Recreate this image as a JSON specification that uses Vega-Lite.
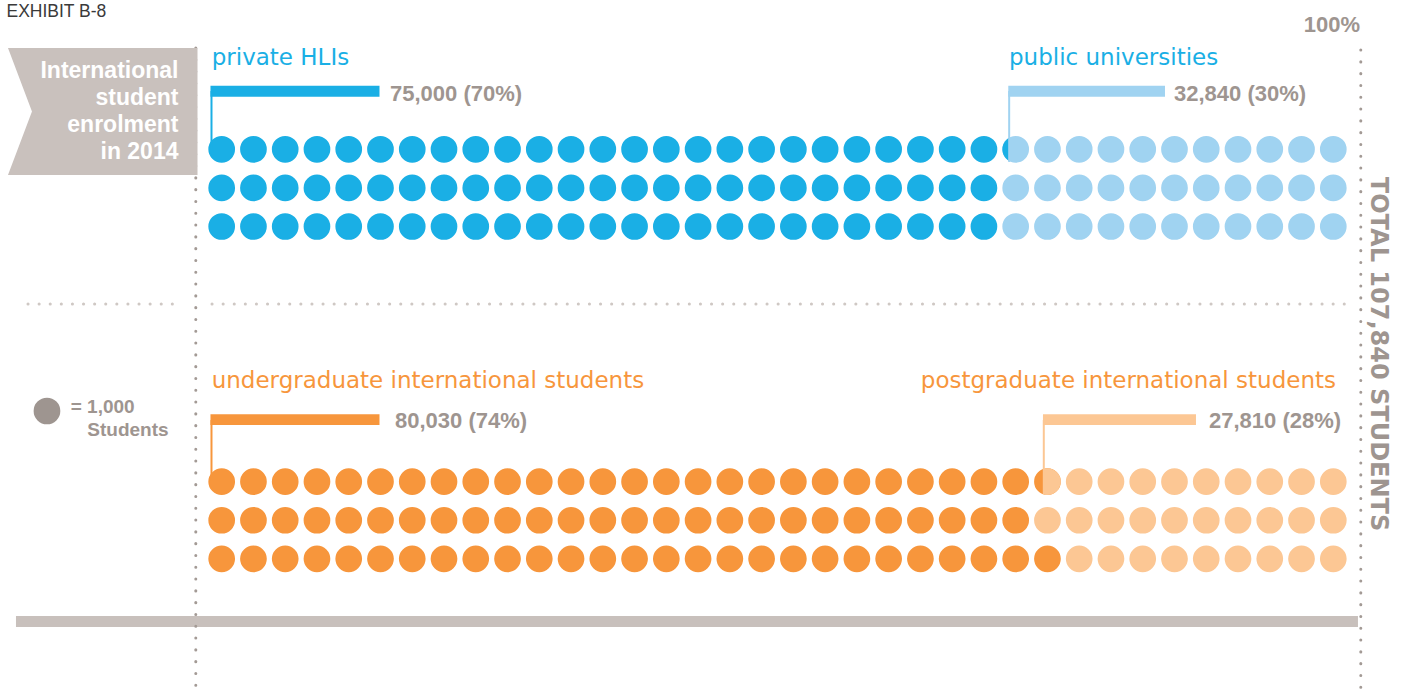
{
"$schema":"https://vega.github.io/schema/vega-lite/v6.json",
"width":1413,"height":695,"padding":0,"autosize":{"type":"none"},
"background":"#ffffff",
"config":{"view":{"stroke":null}},
"datasets":{"dots":[
{"line":0,"col":0,"group":"private HLIs"},{"line":0,"col":1,"group":"private HLIs"},{"line":0,"col":2,"group":"private HLIs"},{"line":0,"col":3,"group":"private HLIs"},{"line":0,"col":4,"group":"private HLIs"},{"line":0,"col":5,"group":"private HLIs"},{"line":0,"col":6,"group":"private HLIs"},{"line":0,"col":7,"group":"private HLIs"},{"line":0,"col":8,"group":"private HLIs"},{"line":0,"col":9,"group":"private HLIs"},{"line":0,"col":10,"group":"private HLIs"},{"line":0,"col":11,"group":"private HLIs"},{"line":0,"col":12,"group":"private HLIs"},{"line":0,"col":13,"group":"private HLIs"},{"line":0,"col":14,"group":"private HLIs"},{"line":0,"col":15,"group":"private HLIs"},{"line":0,"col":16,"group":"private HLIs"},{"line":0,"col":17,"group":"private HLIs"},{"line":0,"col":18,"group":"private HLIs"},{"line":0,"col":19,"group":"private HLIs"},{"line":0,"col":20,"group":"private HLIs"},{"line":0,"col":21,"group":"private HLIs"},{"line":0,"col":22,"group":"private HLIs"},{"line":0,"col":23,"group":"private HLIs"},{"line":0,"col":24,"group":"private HLIs"},
{"line":0,"col":25,"group":"public universities","split":"left"},{"line":0,"col":26,"group":"public universities"},{"line":0,"col":27,"group":"public universities"},{"line":0,"col":28,"group":"public universities"},{"line":0,"col":29,"group":"public universities"},{"line":0,"col":30,"group":"public universities"},{"line":0,"col":31,"group":"public universities"},{"line":0,"col":32,"group":"public universities"},{"line":0,"col":33,"group":"public universities"},{"line":0,"col":34,"group":"public universities"},{"line":0,"col":35,"group":"public universities"},
{"line":1,"col":0,"group":"private HLIs"},{"line":1,"col":1,"group":"private HLIs"},{"line":1,"col":2,"group":"private HLIs"},{"line":1,"col":3,"group":"private HLIs"},{"line":1,"col":4,"group":"private HLIs"},{"line":1,"col":5,"group":"private HLIs"},{"line":1,"col":6,"group":"private HLIs"},{"line":1,"col":7,"group":"private HLIs"},{"line":1,"col":8,"group":"private HLIs"},{"line":1,"col":9,"group":"private HLIs"},{"line":1,"col":10,"group":"private HLIs"},{"line":1,"col":11,"group":"private HLIs"},{"line":1,"col":12,"group":"private HLIs"},{"line":1,"col":13,"group":"private HLIs"},{"line":1,"col":14,"group":"private HLIs"},{"line":1,"col":15,"group":"private HLIs"},{"line":1,"col":16,"group":"private HLIs"},{"line":1,"col":17,"group":"private HLIs"},{"line":1,"col":18,"group":"private HLIs"},{"line":1,"col":19,"group":"private HLIs"},{"line":1,"col":20,"group":"private HLIs"},{"line":1,"col":21,"group":"private HLIs"},{"line":1,"col":22,"group":"private HLIs"},{"line":1,"col":23,"group":"private HLIs"},{"line":1,"col":24,"group":"private HLIs"},
{"line":1,"col":25,"group":"public universities"},{"line":1,"col":26,"group":"public universities"},{"line":1,"col":27,"group":"public universities"},{"line":1,"col":28,"group":"public universities"},{"line":1,"col":29,"group":"public universities"},{"line":1,"col":30,"group":"public universities"},{"line":1,"col":31,"group":"public universities"},{"line":1,"col":32,"group":"public universities"},{"line":1,"col":33,"group":"public universities"},{"line":1,"col":34,"group":"public universities"},{"line":1,"col":35,"group":"public universities"},
{"line":2,"col":0,"group":"private HLIs"},{"line":2,"col":1,"group":"private HLIs"},{"line":2,"col":2,"group":"private HLIs"},{"line":2,"col":3,"group":"private HLIs"},{"line":2,"col":4,"group":"private HLIs"},{"line":2,"col":5,"group":"private HLIs"},{"line":2,"col":6,"group":"private HLIs"},{"line":2,"col":7,"group":"private HLIs"},{"line":2,"col":8,"group":"private HLIs"},{"line":2,"col":9,"group":"private HLIs"},{"line":2,"col":10,"group":"private HLIs"},{"line":2,"col":11,"group":"private HLIs"},{"line":2,"col":12,"group":"private HLIs"},{"line":2,"col":13,"group":"private HLIs"},{"line":2,"col":14,"group":"private HLIs"},{"line":2,"col":15,"group":"private HLIs"},{"line":2,"col":16,"group":"private HLIs"},{"line":2,"col":17,"group":"private HLIs"},{"line":2,"col":18,"group":"private HLIs"},{"line":2,"col":19,"group":"private HLIs"},{"line":2,"col":20,"group":"private HLIs"},{"line":2,"col":21,"group":"private HLIs"},{"line":2,"col":22,"group":"private HLIs"},{"line":2,"col":23,"group":"private HLIs"},{"line":2,"col":24,"group":"private HLIs"},
{"line":2,"col":25,"group":"public universities"},{"line":2,"col":26,"group":"public universities"},{"line":2,"col":27,"group":"public universities"},{"line":2,"col":28,"group":"public universities"},{"line":2,"col":29,"group":"public universities"},{"line":2,"col":30,"group":"public universities"},{"line":2,"col":31,"group":"public universities"},{"line":2,"col":32,"group":"public universities"},{"line":2,"col":33,"group":"public universities"},{"line":2,"col":34,"group":"public universities"},{"line":2,"col":35,"group":"public universities"},
{"line":8.61,"col":0,"group":"undergraduate"},{"line":8.61,"col":1,"group":"undergraduate"},{"line":8.61,"col":2,"group":"undergraduate"},{"line":8.61,"col":3,"group":"undergraduate"},{"line":8.61,"col":4,"group":"undergraduate"},{"line":8.61,"col":5,"group":"undergraduate"},{"line":8.61,"col":6,"group":"undergraduate"},{"line":8.61,"col":7,"group":"undergraduate"},{"line":8.61,"col":8,"group":"undergraduate"},{"line":8.61,"col":9,"group":"undergraduate"},{"line":8.61,"col":10,"group":"undergraduate"},{"line":8.61,"col":11,"group":"undergraduate"},{"line":8.61,"col":12,"group":"undergraduate"},{"line":8.61,"col":13,"group":"undergraduate"},{"line":8.61,"col":14,"group":"undergraduate"},{"line":8.61,"col":15,"group":"undergraduate"},{"line":8.61,"col":16,"group":"undergraduate"},{"line":8.61,"col":17,"group":"undergraduate"},{"line":8.61,"col":18,"group":"undergraduate"},{"line":8.61,"col":19,"group":"undergraduate"},{"line":8.61,"col":20,"group":"undergraduate"},{"line":8.61,"col":21,"group":"undergraduate"},{"line":8.61,"col":22,"group":"undergraduate"},{"line":8.61,"col":23,"group":"undergraduate"},{"line":8.61,"col":24,"group":"undergraduate"},{"line":8.61,"col":25,"group":"undergraduate"},{"line":8.61,"col":26,"group":"undergraduate","split":"right"},
{"line":8.61,"col":27,"group":"postgraduate"},{"line":8.61,"col":28,"group":"postgraduate"},{"line":8.61,"col":29,"group":"postgraduate"},{"line":8.61,"col":30,"group":"postgraduate"},{"line":8.61,"col":31,"group":"postgraduate"},{"line":8.61,"col":32,"group":"postgraduate"},{"line":8.61,"col":33,"group":"postgraduate"},{"line":8.61,"col":34,"group":"postgraduate"},{"line":8.61,"col":35,"group":"postgraduate"},
{"line":9.61,"col":0,"group":"undergraduate"},{"line":9.61,"col":1,"group":"undergraduate"},{"line":9.61,"col":2,"group":"undergraduate"},{"line":9.61,"col":3,"group":"undergraduate"},{"line":9.61,"col":4,"group":"undergraduate"},{"line":9.61,"col":5,"group":"undergraduate"},{"line":9.61,"col":6,"group":"undergraduate"},{"line":9.61,"col":7,"group":"undergraduate"},{"line":9.61,"col":8,"group":"undergraduate"},{"line":9.61,"col":9,"group":"undergraduate"},{"line":9.61,"col":10,"group":"undergraduate"},{"line":9.61,"col":11,"group":"undergraduate"},{"line":9.61,"col":12,"group":"undergraduate"},{"line":9.61,"col":13,"group":"undergraduate"},{"line":9.61,"col":14,"group":"undergraduate"},{"line":9.61,"col":15,"group":"undergraduate"},{"line":9.61,"col":16,"group":"undergraduate"},{"line":9.61,"col":17,"group":"undergraduate"},{"line":9.61,"col":18,"group":"undergraduate"},{"line":9.61,"col":19,"group":"undergraduate"},{"line":9.61,"col":20,"group":"undergraduate"},{"line":9.61,"col":21,"group":"undergraduate"},{"line":9.61,"col":22,"group":"undergraduate"},{"line":9.61,"col":23,"group":"undergraduate"},{"line":9.61,"col":24,"group":"undergraduate"},{"line":9.61,"col":25,"group":"undergraduate"},
{"line":9.61,"col":26,"group":"postgraduate"},{"line":9.61,"col":27,"group":"postgraduate"},{"line":9.61,"col":28,"group":"postgraduate"},{"line":9.61,"col":29,"group":"postgraduate"},{"line":9.61,"col":30,"group":"postgraduate"},{"line":9.61,"col":31,"group":"postgraduate"},{"line":9.61,"col":32,"group":"postgraduate"},{"line":9.61,"col":33,"group":"postgraduate"},{"line":9.61,"col":34,"group":"postgraduate"},{"line":9.61,"col":35,"group":"postgraduate"},
{"line":10.61,"col":0,"group":"undergraduate"},{"line":10.61,"col":1,"group":"undergraduate"},{"line":10.61,"col":2,"group":"undergraduate"},{"line":10.61,"col":3,"group":"undergraduate"},{"line":10.61,"col":4,"group":"undergraduate"},{"line":10.61,"col":5,"group":"undergraduate"},{"line":10.61,"col":6,"group":"undergraduate"},{"line":10.61,"col":7,"group":"undergraduate"},{"line":10.61,"col":8,"group":"undergraduate"},{"line":10.61,"col":9,"group":"undergraduate"},{"line":10.61,"col":10,"group":"undergraduate"},{"line":10.61,"col":11,"group":"undergraduate"},{"line":10.61,"col":12,"group":"undergraduate"},{"line":10.61,"col":13,"group":"undergraduate"},{"line":10.61,"col":14,"group":"undergraduate"},{"line":10.61,"col":15,"group":"undergraduate"},{"line":10.61,"col":16,"group":"undergraduate"},{"line":10.61,"col":17,"group":"undergraduate"},{"line":10.61,"col":18,"group":"undergraduate"},{"line":10.61,"col":19,"group":"undergraduate"},{"line":10.61,"col":20,"group":"undergraduate"},{"line":10.61,"col":21,"group":"undergraduate"},{"line":10.61,"col":22,"group":"undergraduate"},{"line":10.61,"col":23,"group":"undergraduate"},{"line":10.61,"col":24,"group":"undergraduate"},{"line":10.61,"col":25,"group":"undergraduate"},{"line":10.61,"col":26,"group":"undergraduate"},
{"line":10.61,"col":27,"group":"postgraduate"},{"line":10.61,"col":28,"group":"postgraduate"},{"line":10.61,"col":29,"group":"postgraduate"},{"line":10.61,"col":30,"group":"postgraduate"},{"line":10.61,"col":31,"group":"postgraduate"},{"line":10.61,"col":32,"group":"postgraduate"},{"line":10.61,"col":33,"group":"postgraduate"},{"line":10.61,"col":34,"group":"postgraduate"},{"line":10.61,"col":35,"group":"postgraduate"}
]},
"layer":[
{"data":{"values":[{}]},"mark":{"type":"rect","color":"#c8c0bc"},
 "encoding":{"x":{"datum":-6.477,"type":"quantitative","scale":{"domain":[-6.98,37.51],"nice":false,"zero":false},"axis":null},"x2":{"datum":35.777},
 "y":{"datum":12.091,"type":"quantitative","scale":{"domain":[-3.868,14.137],"nice":false,"zero":false,"reverse":true},"axis":null},"y2":{"datum":12.376}}},
{"data":{"values":[{}]},"mark":{"type":"rule","color":"#a39a95","strokeWidth":3,"strokeCap":"round","strokeDash":[0.1,11.7]},
 "encoding":{"x":{"datum":-0.8155,"type":"quantitative","scale":{"domain":[-6.98,37.51],"nice":false,"zero":false},"axis":null},
 "y":{"datum":-2.624,"type":"quantitative","scale":{"domain":[-3.868,14.137],"nice":false,"zero":false,"reverse":true},"axis":null},"y2":{"datum":14.137}}},
{"data":{"values":[{}]},"mark":{"type":"rule","color":"#a39a95","strokeWidth":3,"strokeCap":"round","strokeDash":[0.1,11.7]},
 "encoding":{"x":{"datum":35.866,"type":"quantitative","scale":{"domain":[-6.98,37.51],"nice":false,"zero":false},"axis":null},
 "y":{"datum":-2.573,"type":"quantitative","scale":{"domain":[-3.868,14.137],"nice":false,"zero":false,"reverse":true},"axis":null},"y2":{"datum":14.137}}},
{"data":{"values":[{}]},"mark":{"type":"rule","color":"#cfc8c4","strokeWidth":3,"strokeCap":"round","strokeDash":[0.1,11]},
 "encoding":{"x":{"datum":-6.099,"type":"quantitative","scale":{"domain":[-6.98,37.51],"nice":false,"zero":false},"axis":null},"x2":{"datum":-1.502},
 "y":{"datum":4.008,"type":"quantitative","scale":{"domain":[-3.868,14.137],"nice":false,"zero":false,"reverse":true},"axis":null}}},
{"data":{"values":[{}]},"mark":{"type":"rule","color":"#cfc8c4","strokeWidth":3,"strokeCap":"round","strokeDash":[0.1,11]},
 "encoding":{"x":{"datum":-0.305,"type":"quantitative","scale":{"domain":[-6.98,37.51],"nice":false,"zero":false},"axis":null},"x2":{"datum":35.368},
 "y":{"datum":4.008,"type":"quantitative","scale":{"domain":[-3.868,14.137],"nice":false,"zero":false,"reverse":true},"axis":null}}},
{"data":{"values":[{}]},"mark":{"type":"point","shape":"M-1,-0.67L1,-0.67L1,0.67L-1,0.67L-0.747,0Z","size":35910,"filled":true,"color":"#c9c1bd","opacity":1,"strokeWidth":0},
 "encoding":{"x":{"datum":-3.745,"type":"quantitative","scale":{"domain":[-6.98,37.51],"nice":false,"zero":false},"axis":null},
 "y":{"datum":-0.979,"type":"quantitative","scale":{"domain":[-3.868,14.137],"nice":false,"zero":false,"reverse":true},"axis":null}}},
{"data":{"values":[{}]},"mark":{"type":"text","text":["International","student","enrolment","in 2014"],"align":"right","baseline":"alphabetic","lineHeight":27,"font":"Liberation Sans","fontWeight":"bold","fontSize":23,"color":"#ffffff"},
 "encoding":{"x":{"datum":-1.36,"type":"quantitative","scale":{"domain":[-6.98,37.51],"nice":false,"zero":false},"axis":null},
 "y":{"datum":-1.86,"type":"quantitative","scale":{"domain":[-3.868,14.137],"nice":false,"zero":false,"reverse":true},"axis":null}}},
{"data":{"name":"dots"},"mark":{"type":"circle","size":713,"opacity":1},
 "encoding":{"x":{"field":"col","type":"quantitative","scale":{"domain":[-6.98,37.51],"nice":false,"zero":false},"axis":null},
 "y":{"field":"line","type":"quantitative","scale":{"domain":[-3.868,14.137],"nice":false,"zero":false,"reverse":true},"axis":null},
 "color":{"field":"group","type":"nominal","scale":{"domain":["private HLIs","public universities","undergraduate","postgraduate"],"range":["#1aafe5","#a0d3f1","#f7963c","#fcc794"]},"legend":null}}},
{"data":{"name":"dots"},"transform":[{"filter":"datum.split == 'left'"}],"mark":{"type":"point","shape":"M-0.487,-0.873A1,1,0,0,0,-0.487,0.873Z","size":713,"filled":true,"color":"#1aafe5","opacity":1,"strokeWidth":0},
 "encoding":{"x":{"field":"col","type":"quantitative","scale":{"domain":[-6.98,37.51],"nice":false,"zero":false},"axis":null},
 "y":{"field":"line","type":"quantitative","scale":{"domain":[-3.868,14.137],"nice":false,"zero":false,"reverse":true},"axis":null}}},
{"data":{"name":"dots"},"transform":[{"filter":"datum.split == 'right'"}],"mark":{"type":"point","shape":"M-0.3,-0.954A1,1,0,1,1,-0.3,0.954Z","size":713,"filled":true,"color":"#fcc794","opacity":1,"strokeWidth":0},
 "encoding":{"x":{"field":"col","type":"quantitative","scale":{"domain":[-6.98,37.51],"nice":false,"zero":false},"axis":null},
 "y":{"field":"line","type":"quantitative","scale":{"domain":[-3.868,14.137],"nice":false,"zero":false,"reverse":true},"axis":null}}},
{"data":{"values":[{}]},"mark":{"type":"rect","color":"#1aafe5"},
 "encoding":{"x":{"datum":-0.353,"type":"quantitative","scale":{"domain":[-6.98,37.51],"nice":false,"zero":false},"axis":null},"x2":{"datum":4.969},
 "y":{"datum":-1.648,"type":"quantitative","scale":{"domain":[-3.868,14.137],"nice":false,"zero":false,"reverse":true},"axis":null},"y2":{"datum":-1.363}}},
{"data":{"values":[{}]},"mark":{"type":"rect","color":"#a0d3f1"},
 "encoding":{"x":{"datum":24.767,"type":"quantitative","scale":{"domain":[-6.98,37.51],"nice":false,"zero":false},"axis":null},"x2":{"datum":29.701},
 "y":{"datum":-1.648,"type":"quantitative","scale":{"domain":[-3.868,14.137],"nice":false,"zero":false,"reverse":true},"axis":null},"y2":{"datum":-1.363}}},
{"data":{"values":[{}]},"mark":{"type":"rect","color":"#f7963c"},
 "encoding":{"x":{"datum":-0.353,"type":"quantitative","scale":{"domain":[-6.98,37.51],"nice":false,"zero":false},"axis":null},"x2":{"datum":4.969},
 "y":{"datum":6.865,"type":"quantitative","scale":{"domain":[-3.868,14.137],"nice":false,"zero":false,"reverse":true},"axis":null},"y2":{"datum":7.142}}},
{"data":{"values":[{}]},"mark":{"type":"rect","color":"#fcc794"},
 "encoding":{"x":{"datum":25.859,"type":"quantitative","scale":{"domain":[-6.98,37.51],"nice":false,"zero":false},"axis":null},"x2":{"datum":30.677},
 "y":{"datum":6.865,"type":"quantitative","scale":{"domain":[-3.868,14.137],"nice":false,"zero":false,"reverse":true},"axis":null},"y2":{"datum":7.142}}},
{"data":{"values":[{}]},"mark":{"type":"rule","color":"#1aafe5","strokeWidth":2},
 "encoding":{"x":{"datum":-0.321,"type":"quantitative","scale":{"domain":[-6.98,37.51],"nice":false,"zero":false},"axis":null},
 "y":{"datum":-1.51,"type":"quantitative","scale":{"domain":[-3.868,14.137],"nice":false,"zero":false,"reverse":true},"axis":null},"y2":{"datum":0.018}}},
{"data":{"values":[{}]},"mark":{"type":"rule","color":"#a0d3f1","strokeWidth":2},
 "encoding":{"x":{"datum":24.795,"type":"quantitative","scale":{"domain":[-6.98,37.51],"nice":false,"zero":false},"axis":null},
 "y":{"datum":-1.51,"type":"quantitative","scale":{"domain":[-3.868,14.137],"nice":false,"zero":false,"reverse":true},"axis":null},"y2":{"datum":0.329}}},
{"data":{"values":[{}]},"mark":{"type":"rule","color":"#f7963c","strokeWidth":2},
 "encoding":{"x":{"datum":-0.321,"type":"quantitative","scale":{"domain":[-6.98,37.51],"nice":false,"zero":false},"axis":null},
 "y":{"datum":7.013,"type":"quantitative","scale":{"domain":[-3.868,14.137],"nice":false,"zero":false,"reverse":true},"axis":null},"y2":{"datum":8.593}}},
{"data":{"values":[{}]},"mark":{"type":"rule","color":"#fcc794","strokeWidth":2},
 "encoding":{"x":{"datum":25.885,"type":"quantitative","scale":{"domain":[-6.98,37.51],"nice":false,"zero":false},"axis":null},
 "y":{"datum":7.013,"type":"quantitative","scale":{"domain":[-3.868,14.137],"nice":false,"zero":false,"reverse":true},"axis":null},"y2":{"datum":8.93}}},
{"data":{"values":[{}]},"mark":{"type":"text","text":"private HLIs","align":"left","baseline":"alphabetic","font":"DejaVu Sans","fontWeight":"normal","fontSize":23,"color":"#1aafe5"},
 "encoding":{"x":{"datum":-0.315,"type":"quantitative","scale":{"domain":[-6.98,37.51],"nice":false,"zero":false},"axis":null},
 "y":{"datum":-2.184,"type":"quantitative","scale":{"domain":[-3.868,14.137],"nice":false,"zero":false,"reverse":true},"axis":null}}},
{"data":{"values":[{}]},"mark":{"type":"text","text":"public universities","align":"left","baseline":"alphabetic","font":"DejaVu Sans","fontWeight":"normal","fontSize":23,"color":"#1aafe5"},
 "encoding":{"x":{"datum":24.789,"type":"quantitative","scale":{"domain":[-6.98,37.51],"nice":false,"zero":false},"axis":null},
 "y":{"datum":-2.184,"type":"quantitative","scale":{"domain":[-3.868,14.137],"nice":false,"zero":false,"reverse":true},"axis":null}}},
{"data":{"values":[{}]},"mark":{"type":"text","text":"undergraduate international students","align":"left","baseline":"alphabetic","font":"DejaVu Sans","fontWeight":"normal","fontSize":23,"color":"#f7963c"},
 "encoding":{"x":{"datum":-0.315,"type":"quantitative","scale":{"domain":[-6.98,37.51],"nice":false,"zero":false},"axis":null},
 "y":{"datum":6.171,"type":"quantitative","scale":{"domain":[-3.868,14.137],"nice":false,"zero":false,"reverse":true},"axis":null}}},
{"data":{"values":[{}]},"mark":{"type":"text","text":"postgraduate international students","align":"right","baseline":"alphabetic","font":"DejaVu Sans","fontWeight":"normal","fontSize":23,"color":"#f7963c"},
 "encoding":{"x":{"datum":35.085,"type":"quantitative","scale":{"domain":[-6.98,37.51],"nice":false,"zero":false},"axis":null},
 "y":{"datum":6.171,"type":"quantitative","scale":{"domain":[-3.868,14.137],"nice":false,"zero":false,"reverse":true},"axis":null}}},
{"data":{"values":[{}]},"mark":{"type":"text","text":"75,000 (70%)","align":"left","baseline":"alphabetic","font":"Liberation Sans","fontWeight":"bold","fontSize":22,"color":"#9e9590"},
 "encoding":{"x":{"datum":5.299,"type":"quantitative","scale":{"domain":[-6.98,37.51],"nice":false,"zero":false},"axis":null},
 "y":{"datum":-1.264,"type":"quantitative","scale":{"domain":[-3.868,14.137],"nice":false,"zero":false,"reverse":true},"axis":null}}},
{"data":{"values":[{}]},"mark":{"type":"text","text":"32,840 (30%)","align":"left","baseline":"alphabetic","font":"Liberation Sans","fontWeight":"bold","fontSize":22,"color":"#9e9590"},
 "encoding":{"x":{"datum":29.984,"type":"quantitative","scale":{"domain":[-6.98,37.51],"nice":false,"zero":false},"axis":null},
 "y":{"datum":-1.264,"type":"quantitative","scale":{"domain":[-3.868,14.137],"nice":false,"zero":false,"reverse":true},"axis":null}}},
{"data":{"values":[{}]},"mark":{"type":"text","text":"80,030 (74%)","align":"left","baseline":"alphabetic","font":"Liberation Sans","fontWeight":"bold","fontSize":22,"color":"#9e9590"},
 "encoding":{"x":{"datum":5.457,"type":"quantitative","scale":{"domain":[-6.98,37.51],"nice":false,"zero":false},"axis":null},
 "y":{"datum":7.228,"type":"quantitative","scale":{"domain":[-3.868,14.137],"nice":false,"zero":false,"reverse":true},"axis":null}}},
{"data":{"values":[{}]},"mark":{"type":"text","text":"27,810 (28%)","align":"left","baseline":"alphabetic","font":"Liberation Sans","fontWeight":"bold","fontSize":22,"color":"#9e9590"},
 "encoding":{"x":{"datum":31.086,"type":"quantitative","scale":{"domain":[-6.98,37.51],"nice":false,"zero":false},"axis":null},
 "y":{"datum":7.228,"type":"quantitative","scale":{"domain":[-3.868,14.137],"nice":false,"zero":false,"reverse":true},"axis":null}}},
{"data":{"values":[{}]},"mark":{"type":"circle","size":713,"opacity":1,"color":"#9e9590"},
 "encoding":{"x":{"datum":-5.501,"type":"quantitative","scale":{"domain":[-6.98,37.51],"nice":false,"zero":false},"axis":null},
 "y":{"datum":6.78,"type":"quantitative","scale":{"domain":[-3.868,14.137],"nice":false,"zero":false,"reverse":true},"axis":null}}},
{"data":{"values":[{}]},"mark":{"type":"text","text":"= 1,000","align":"left","baseline":"alphabetic","font":"Liberation Sans","fontWeight":"bold","fontSize":19,"color":"#9e9590"},
 "encoding":{"x":{"datum":-4.754,"type":"quantitative","scale":{"domain":[-6.98,37.51],"nice":false,"zero":false},"axis":null},
 "y":{"datum":6.839,"type":"quantitative","scale":{"domain":[-3.868,14.137],"nice":false,"zero":false,"reverse":true},"axis":null}}},
{"data":{"values":[{}]},"mark":{"type":"text","text":"Students","align":"left","baseline":"alphabetic","font":"Liberation Sans","fontWeight":"bold","fontSize":19,"color":"#9e9590"},
 "encoding":{"x":{"datum":-4.232,"type":"quantitative","scale":{"domain":[-6.98,37.51],"nice":false,"zero":false},"axis":null},
 "y":{"datum":7.42,"type":"quantitative","scale":{"domain":[-3.868,14.137],"nice":false,"zero":false,"reverse":true},"axis":null}}},
{"data":{"values":[{}]},"mark":{"type":"text","text":"TOTAL 107,840 STUDENTS","angle":90,"align":"center","baseline":"middle","font":"DejaVu Sans","fontWeight":"bold","fontSize":24,"color":"#9e9590"},
 "encoding":{"x":{"datum":36.42,"type":"quantitative","scale":{"domain":[-6.98,37.51],"nice":false,"zero":false},"axis":null},
 "y":{"datum":5.303,"type":"quantitative","scale":{"domain":[-3.868,14.137],"nice":false,"zero":false,"reverse":true},"axis":null}}},
{"data":{"values":[{}]},"mark":{"type":"text","text":"100%","align":"right","baseline":"alphabetic","font":"Liberation Sans","fontWeight":"bold","fontSize":22,"color":"#9e9590"},
 "encoding":{"x":{"datum":35.84,"type":"quantitative","scale":{"domain":[-6.98,37.51],"nice":false,"zero":false},"axis":null},
 "y":{"datum":-3.047,"type":"quantitative","scale":{"domain":[-3.868,14.137],"nice":false,"zero":false,"reverse":true},"axis":null}}},
{"data":{"values":[{}]},"mark":{"type":"text","text":"EXHIBIT B-8","align":"left","baseline":"alphabetic","font":"Liberation Sans","fontSize":17.5,"color":"#3a3a3a"},
 "encoding":{"x":{"datum":-6.776,"type":"quantitative","scale":{"domain":[-6.98,37.51],"nice":false,"zero":false},"axis":null},
 "y":{"datum":-3.415,"type":"quantitative","scale":{"domain":[-3.868,14.137],"nice":false,"zero":false,"reverse":true},"axis":null}}}
]
}
